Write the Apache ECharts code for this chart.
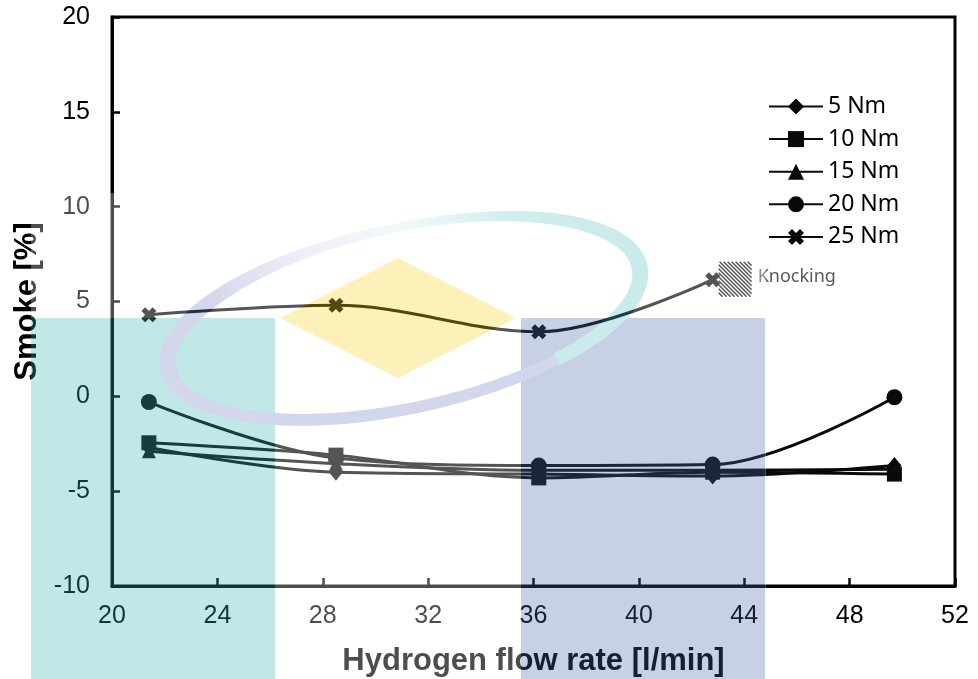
<!DOCTYPE html>
<html>
<head>
<meta charset="utf-8">
<script src="https://cdn.jsdelivr.net/npm/echarts@6/dist/echarts.min.js"></script>
<style>
  html, body { margin: 0; padding: 0; background: #fff; }
  #chart { width: 978px; height: 679px; }
</style>
</head>
<body>
<div id="chart"></div>
<script>
// Hydrogen flow rate [l/min] at each test point
const flowRate = [21.4, 28.5, 36.2, 42.8, 49.7];

// Smoke opacity [%] per engine load
const smoke5Nm  = [-2.7, -4.0, -4.1, -4.2, -3.65];
const smoke10Nm = [-2.45, -3.1, -4.3, -4.0, -4.1];
const smoke15Nm = [-2.9, -3.55, -3.9, -3.9, -3.85];
const smoke20Nm = [-0.3, -3.25, -3.65, -3.6, -0.05];
const smoke25Nm = [4.3, 4.8, 3.4, 6.15];   // knocking beyond the fourth point

const seriesNames = ['5 Nm', '10 Nm', '15 Nm', '20 Nm', '25 Nm'];
const xTicks = [20, 24, 28, 32, 36, 40, 44, 48, 52];
const yTicks = [-10, -5, 0, 5, 10, 15, 20];
const knockLabel = 'Knocking';

const W = 978, H = 679;
const ink = '#0a0a0a';
const crossPath = 'path://M0 2.5L2.5 0L5 2.5L7.5 0L10 2.5L7.5 5L10 7.5L7.5 10L5 7.5L2.5 10L0 7.5L2.5 5Z';

function lineSeries(name, values, symbol, size) {
  return {
    name: name,
    type: 'line',
    data: values.map((v, i) => [flowRate[i], v]),
    smooth: 0.35,
    symbol: symbol,
    symbolSize: size,
    showSymbol: true,
    lineStyle: { color: ink, width: 3 },
    itemStyle: { color: ink },
    emphasis: { disabled: true },
    animation: false
  };
}

// University logo watermark, painted once and laid over the plot at low opacity
function buildWatermark() {
  const c = document.createElement('canvas');
  c.width = W; c.height = H;
  const g = c.getContext('2d');
  g.fillStyle = '#ffffff';
  g.fillRect(31, 193, 735, H - 193);
  g.fillStyle = 'rgb(58,178,178)';
  g.fillRect(31, 318, 244, H - 318);
  g.fillStyle = 'rgb(75,102,165)';
  g.fillRect(521, 318, 244, H - 318);

  // swoosh: tilted elliptical band whose width and tint vary along its length
  const cx = 404, cy = 318, rx = 241, ry = 90, rot = -0.215;
  const cr = Math.cos(rot), sr = Math.sin(rot);
  const pt = t => {
    const a = Math.PI * t, ex = rx * Math.cos(a), ey = ry * Math.sin(a);
    return [cx + ex * cr - ey * sr, cy + ex * sr + ey * cr];
  };
  const lav = [110, 125, 190], teal = [80, 190, 190], white = [255, 255, 255];
  // [t, rgb, strength (0 = white, 1 = full tint), width]
  const keys = [
    [0.30, lav, 1.0, 11], [0.80, lav, 1.0, 12], [1.00, lav, 1.0, 17],
    [1.22, lav, 1.0, 14], [1.40, lav, 0.35, 10], [1.52, teal, 0.25, 8],
    [1.68, teal, 0.9, 10], [2.00, teal, 1.0, 16], [2.30, teal, 1.0, 13]
  ];
  const sample = t => {
    let i = 0;
    while (i < keys.length - 2 && t > keys[i + 1][0]) i++;
    const k0 = keys[i], k1 = keys[i + 1];
    const f = Math.min(1, Math.max(0, (t - k0[0]) / (k1[0] - k0[0])));
    const col = [0, 1, 2].map(j => {
      const a = k0[1][j] * k0[2] + white[j] * (1 - k0[2]);
      const b = k1[1][j] * k1[2] + white[j] * (1 - k1[2]);
      return Math.round(a + (b - a) * f);
    });
    return { col: col, w: k0[3] + (k1[3] - k0[3]) * f };
  };
  const step = 0.004;
  for (let t = 0.30; t < 2.30; t += step) {
    const t2 = t + step * 1.6;
    const edge = tt => {
      const p0 = pt(tt - 0.001), p1 = pt(tt + 0.001), p = pt(tt);
      let nx = p1[1] - p0[1], ny = -(p1[0] - p0[0]);
      const len = Math.hypot(nx, ny); nx /= len; ny /= len;
      const w = sample(tt).w / 2;
      return [[p[0] + nx * w, p[1] + ny * w], [p[0] - nx * w, p[1] - ny * w]];
    };
    const e1 = edge(t), e2 = edge(t2), s = sample(t + step / 2);
    g.fillStyle = 'rgb(' + s.col.join(',') + ')';
    g.beginPath();
    g.moveTo(e1[0][0], e1[0][1]); g.lineTo(e2[0][0], e2[0][1]);
    g.lineTo(e2[1][0], e2[1][1]); g.lineTo(e1[1][0], e1[1][1]);
    g.closePath();
    g.fill();
  }

  g.fillStyle = 'rgb(248,215,28)';
  g.beginPath();
  g.moveTo(398, 258); g.lineTo(516, 318); g.lineTo(398, 378); g.lineTo(280, 318);
  g.closePath();
  g.fill();
  return c;
}

const chart = echarts.init(document.getElementById('chart'), null, { renderer: 'canvas' });

const axisFont = 'Liberation Sans, Arial, sans-serif';

chart.setOption({
  animation: false,
  backgroundColor: '#fff',
  grid: {
    left: 112, right: 23, top: 17, bottom: 93,
    outerBoundsMode: 'none',
    containLabel: false,
    show: true, borderColor: '#000', borderWidth: 3, backgroundColor: 'transparent'
  },
  xAxis: {
    type: 'value',
    min: xTicks[0], max: xTicks[xTicks.length - 1], interval: xTicks[1] - xTicks[0],
    name: 'Hydrogen flow rate [l/min]',
    nameLocation: 'middle',
    nameGap: 60,
    nameTextStyle: { fontFamily: axisFont, fontSize: 31, fontWeight: 'bold', color: '#000' },
    axisLine: { show: true, onZero: false, lineStyle: { color: '#000', width: 3 } },
    axisTick: { show: true, inside: true, length: 8, lineStyle: { color: '#000', width: 2.5 } },
    axisLabel: { fontFamily: axisFont, fontSize: 25, color: '#000', margin: 18 },
    splitLine: { show: false }
  },
  yAxis: {
    type: 'value',
    min: yTicks[0], max: yTicks[yTicks.length - 1], interval: yTicks[1] - yTicks[0],
    name: 'Smoke [%]',
    nameLocation: 'middle',
    nameGap: 68,
    nameTextStyle: { fontFamily: axisFont, fontSize: 31, fontWeight: 'bold', color: '#000' },
    axisLine: { show: true, onZero: false, lineStyle: { color: '#000', width: 3 } },
    axisTick: { show: true, inside: true, length: 8, lineStyle: { color: '#000', width: 2.5 } },
    axisLabel: { fontFamily: axisFont, fontSize: 25, color: '#000', margin: 22 },
    splitLine: { show: false }
  },
  legend: {
    orient: 'vertical',
    left: 768, top: 95,
    padding: 0,
    itemWidth: 54, itemHeight: 20, itemGap: 9.6,
    selectedMode: false,
    textStyle: { fontFamily: 'Noto Sans, Open Sans, sans-serif', fontSize: 23, color: '#000' },
    data: seriesNames
  },
  series: [
    lineSeries(seriesNames[0], smoke5Nm, 'diamond', [14, 17]),
    lineSeries(seriesNames[1], smoke10Nm, 'rect', 15),
    lineSeries(seriesNames[2], smoke15Nm, 'triangle', 14),
    lineSeries(seriesNames[3], smoke20Nm, 'circle', 16),
    lineSeries(seriesNames[4], smoke25Nm, crossPath, 15)
  ]
});

// Knocking note beside the last 25 Nm point: hatched swatch and label
const last = smoke25Nm.length - 1;
const p = chart.convertToPixel({ gridIndex: 0 }, [flowRate[last], smoke25Nm[last]]);
const bx = p[0] + 6, by = p[1] - 18, bw = 33, bh = 35;
const graphics = [];
for (let c = -bh; c <= bw; c += 4) {
  // segments of x - y = c (in box-local coordinates), clipped to the box
  const x1 = Math.max(0, c), y1 = x1 - c;
  const x2 = Math.min(bw, bh + c), y2 = x2 - c;
  if (x2 - x1 < 0.5) continue;
  graphics.push({
    type: 'line', silent: true, z: 50,
    shape: { x1: bx + x1, y1: by + y1, x2: bx + x2, y2: by + y2 },
    style: { stroke: '#000', lineWidth: 1.3 }
  });
}
graphics.push({
  type: 'text', silent: true, z: 50,
  left: p[0] + 45, top: p[1] - 12,
  style: { text: knockLabel, fontFamily: 'Noto Sans, Open Sans, sans-serif', fontSize: 18, fill: '#595959' }
});
graphics.push({
  type: 'image', silent: true, z: 200,
  left: 0, top: 0,
  style: { image: buildWatermark(), x: 0, y: 0, width: W, height: H, opacity: 0.3 }
});
chart.setOption({ graphic: graphics });
</script>
</body>
</html>
